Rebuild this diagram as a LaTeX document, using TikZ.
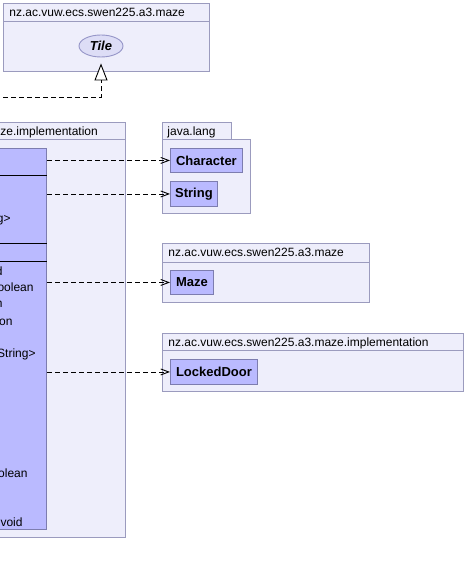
\documentclass[tikz,border=0pt]{standalone}
\usepackage{fontspec}
\setmainfont{Liberation Sans}
\usetikzlibrary{arrows.meta, shapes.geometric}
\definecolor{pkgfill}{RGB}{238,238,251}
\definecolor{pkgline}{RGB}{155,155,190}
\definecolor{clsfill}{RGB}{186,186,255}
\definecolor{clsline}{RGB}{125,125,175}
\definecolor{tilefill}{RGB}{221,221,246}
\definecolor{tileline}{RGB}{150,150,200}

\begin{document}
\begin{tikzpicture}
      [x=1pt, y=-1pt, line width=0.9pt,
        pkg/.style={draw=pkgline, fill=pkgfill},
        pkgname/.style={anchor=base west, inner sep=0pt, font=\fontsize{12}{14}\selectfont},
        cls/.style={draw=clsline, fill=clsfill, anchor=north west, inner sep=0pt,
          font=\fontsize{13}{15}\selectfont\bfseries},
        member/.style={anchor=base east, inner sep=0pt, font=\fontsize{12}{14}\selectfont},
        dep/.style={dash pattern=on 5pt off 3pt, -{Straight Barb[length=8pt,width=6pt]}},
        realize/.style={dash pattern=on 5pt off 3pt, -{Triangle[open,length=17pt,width=13pt,fill=white]}}]
    \clip (0,0) rectangle (466,575);
    \fill[white] (0,0) rectangle (466,575);
    % package holding the interface
    \draw[pkg] (3,3) rectangle (209,71);
    \draw[pkgline] (3,21) -- (209,21);
    \node[pkgname] (mazepkg) at (9,16.5) {nz.ac.vuw.ecs.swen225.a3.maze};
    \node[ellipse, draw=tileline, fill=tilefill, minimum width=44pt, minimum height=22pt,
      inner sep=0pt, font=\fontsize{13}{15}\selectfont\bfseries\itshape] (tile) at (101,46) {Tile};
    % package of the class that is cut off
    \draw[pkg] (-5,122) rectangle (125,537);
    \draw[pkgline] (-5,139) -- (125,139);
    \node[pkgname] (implpkg) at (0,135.5) {ze.implementation};
    \node[cls, anchor=north east, minimum width=200pt, minimum height=381pt] (impl) at (47,148) {};
    \foreach \y in {175,243,261}
      \draw (impl.west |- 0,\y) -- (impl.east |- 0,\y);
    \node[member] (fld1) at (11,222) {g>};
    \node[member] (mth1) at (3,275) {d};
    \node[member] (mth2) at (34,291) {oolean};
    \node[member] (mth3) at (3,307) {n};
    \node[member] (mth4) at (13,325) {on};
    \node[member] (mth5) at (36,357) {String>};
    \node[member] (mth6) at (28,477) {olean};
    \node[member] (mth7) at (23,526) {void};
    % java.lang
    \draw[pkg] (162,122) rectangle (231,139);
    \draw[pkg] (162,139) rectangle (250,213);
    \node[pkgname] (langpkg) at (167,135.5) {java.lang};
    \node[cls, minimum width=72pt, minimum height=24pt] (chr) at (170,148) {Character};
    \node[cls, minimum width=47pt, minimum height=25pt] (str) at (170,181) {String};
    % maze
    \draw[pkg] (162,243) rectangle (369,302);
    \draw[pkgline] (162,262) -- (369,262);
    \node[pkgname] (mazepkgb) at (168,256.5) {nz.ac.vuw.ecs.swen225.a3.maze};
    \node[cls, minimum width=43pt, minimum height=24pt] (maze) at (170,270) {Maze};
    % implementation
    \draw[pkg] (162,333) rectangle (463,391);
    \draw[pkgline] (162,350) -- (463,350);
    \node[pkgname] (implpkgb) at (168,346.5) {nz.ac.vuw.ecs.swen225.a3.maze.implementation};
    \node[cls, minimum width=87pt, minimum height=25pt] (door) at (170,359) {LockedDoor};
    % connectors
    \coordinate (src) at (-5,97);
    \draw[realize, shorten >=6pt] (src) -| (tile.south);
    \draw[dep] (impl.east |- chr.west) -- (chr.west);
    \draw[dep] (impl.east |- str.west) -- (str.west);
    \draw[dep] (impl.east |- maze.west) -- (maze.west);
    \draw[dep] (impl.east |- door.west) -- (door.west);
\end{tikzpicture}
\end{document}
